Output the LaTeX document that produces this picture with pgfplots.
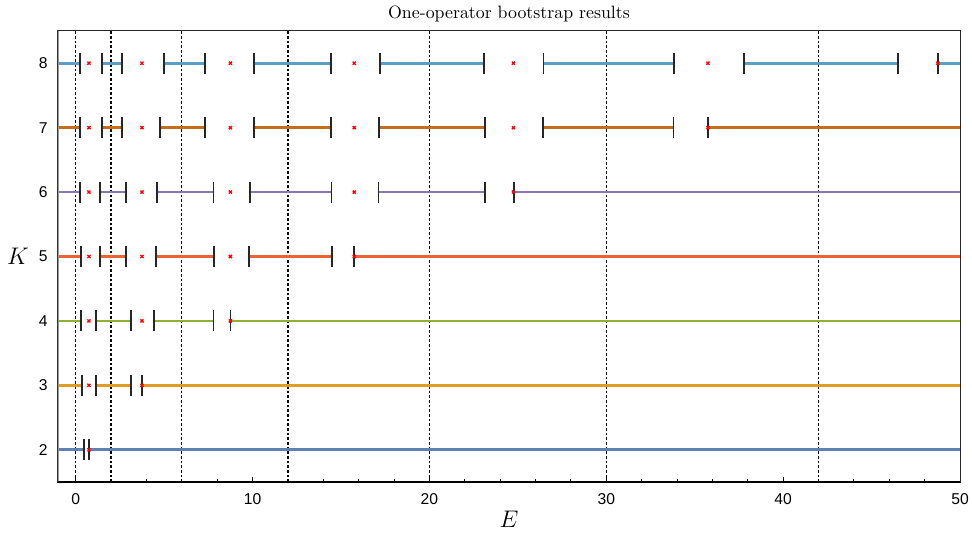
\documentclass[border=0pt]{standalone}
\usepackage{fontspec}
\usepackage{pgfplots}
\pgfplotsset{compat=1.18}
\newfontfamily\tickfont{Liberation Sans}
\definecolor{cK2}{HTML}{5E81B5}
\definecolor{cK3}{HTML}{E19C24}
\definecolor{cK4}{HTML}{8FB032}
\definecolor{cK5}{HTML}{EB6235}
\definecolor{cK6}{HTML}{8778B3}
\definecolor{cK7}{HTML}{C56E1A}
\definecolor{cK8}{HTML}{5D9EC7}
\newcommand{\seg}[4]{\addplot[#1, line width=1.6pt, forget plot] coordinates {(#3,#2) (#4,#2)};}
\begin{document}
\begin{tikzpicture}
\begin{axis}[
  scale only axis, width=541.2pt, height=270.6pt,
  xmin=-1, xmax=50, ymin=1.5, ymax=8.5,
  xtick={0,10,20,30,40,50}, minor x tick num=4,
  ytick={2,3,4,5,6,7,8},
  xtick pos=bottom, ytick pos=left,
  tick align=inside,
  major tick length=3pt, minor tick length=1.8pt,
  tick style={black, line width=0.5pt},
  axis line style={black!85, line width=0.6pt},
  /pgf/number format/assume math mode=true,
  tick label style={font=\tickfont\fontsize{9.4}{10}\selectfont},
  xticklabel style={inner sep=0pt, anchor=north, yshift=-7pt},
  yticklabel style={inner sep=0pt, anchor=east, xshift=-6pt},
  extra x ticks={0,2,6,12,20,30,42},
  extra x tick labels={},
  extra x tick style={grid=major, major tick length=0pt,
     major grid style={black, line width=0.75pt, dash pattern=on 1.6pt off 1.2pt}},
  title={One-operator bootstrap results},
  title style={font=\fontsize{10.7}{12}\selectfont, at={(axis description cs:0.5,1)}, anchor=base, yshift=1.4pt},
  xlabel={$E$},
  xlabel style={font=\fontsize{14}{16}\selectfont, at={(axis description cs:0.5,0)}, anchor=base, yshift=-27.4pt},
  ylabel={$K$},
  ylabel style={font=\fontsize{14}{16}\selectfont, rotate=-90, at={(axis description cs:0,0.482)}, anchor=base, xshift=-24pt},
]
% K = 8
\seg{cK8}{8}{-1}{0.23}
\seg{cK8}{8}{1.49}{2.60}
\seg{cK8}{8}{4.98}{7.30}
\seg{cK8}{8}{10.07}{14.42}
\seg{cK8}{8}{17.19}{23.09}
\seg{cK8}{8}{26.45}{33.81}
\seg{cK8}{8}{37.80}{46.48}
\seg{cK8}{8}{48.77}{50}
% K = 7
\seg{cK7}{7}{-1}{0.26}
\seg{cK7}{7}{1.49}{2.60}
\seg{cK7}{7}{4.77}{7.30}
\seg{cK7}{7}{10.07}{14.42}
\seg{cK7}{7}{17.14}{23.13}
\seg{cK7}{7}{26.43}{33.80}
\seg{cK7}{7}{35.77}{50}
% K = 6
\seg{cK6}{6}{-1}{0.26}
\seg{cK6}{6}{1.39}{2.83}
\seg{cK6}{6}{4.62}{7.79}
\seg{cK6}{6}{9.84}{14.46}
\seg{cK6}{6}{17.12}{23.13}
\seg{cK6}{6}{24.76}{50}
% K = 5
\seg{cK5}{5}{-1}{0.28}
\seg{cK5}{5}{1.39}{2.83}
\seg{cK5}{5}{4.56}{7.81}
\seg{cK5}{5}{9.79}{14.48}
\seg{cK5}{5}{15.74}{50}
% K = 4
\seg{cK4}{4}{-1}{0.32}
\seg{cK4}{4}{1.17}{3.13}
\seg{cK4}{4}{4.45}{7.79}
\seg{cK4}{4}{8.75}{50}
% K = 3
\seg{cK3}{3}{-1}{0.36}
\seg{cK3}{3}{1.17}{3.13}
\seg{cK3}{3}{3.73}{50}
% K = 2
\seg{cK2}{2}{-1}{0.47}
\seg{cK2}{2}{0.74}{50}
% interval end bars
\addplot[only marks, mark=|, mark size=6.3pt, mark options={black!85, line width=1.1pt}] coordinates {
 (0.23,8) (1.49,8) (2.60,8) (4.98,8) (7.30,8) (10.07,8) (14.42,8) (17.19,8) (23.09,8) (26.45,8) (33.81,8) (37.80,8) (46.48,8) (48.77,8)
 (0.26,7) (1.49,7) (2.60,7) (4.77,7) (7.30,7) (10.07,7) (14.42,7) (17.14,7) (23.13,7) (26.43,7) (33.80,7) (35.77,7)
 (0.26,6) (1.39,6) (2.83,6) (4.62,6) (7.79,6) (9.84,6) (14.46,6) (17.12,6) (23.13,6) (24.76,6)
 (0.28,5) (1.39,5) (2.83,5) (4.56,5) (7.81,5) (9.79,5) (14.48,5) (15.74,5)
 (0.32,4) (1.17,4) (3.13,4) (4.45,4) (7.79,4) (8.75,4)
 (0.36,3) (1.17,3) (3.13,3) (3.73,3)
 (0.47,2) (0.74,2)
};
% exact values
\addplot[only marks, mark=x, mark size=1.3pt, mark options={red, line width=0.8pt}] coordinates {
 (0.75,8) (3.75,8) (8.75,8) (15.75,8) (24.75,8) (35.75,8) (48.75,8)
 (0.75,7) (3.75,7) (8.75,7) (15.75,7) (24.75,7) (35.75,7)
 (0.75,6) (3.75,6) (8.75,6) (15.75,6) (24.75,6)
 (0.75,5) (3.75,5) (8.75,5) (15.75,5)
 (0.75,4) (3.75,4) (8.75,4)
 (0.75,3) (3.75,3)
 (0.75,2)
};
\draw[gray!80, line width=1pt] (rel axis cs:0,0) -- (rel axis cs:0,1);
\draw[black, line width=1.3pt] (rel axis cs:0,0) -- (rel axis cs:1,0);
\end{axis}
\pgfresetboundingbox
\path (-34.8pt,-31.8pt) rectangle (548.4pt,289.2pt);
\end{tikzpicture}
\end{document}
